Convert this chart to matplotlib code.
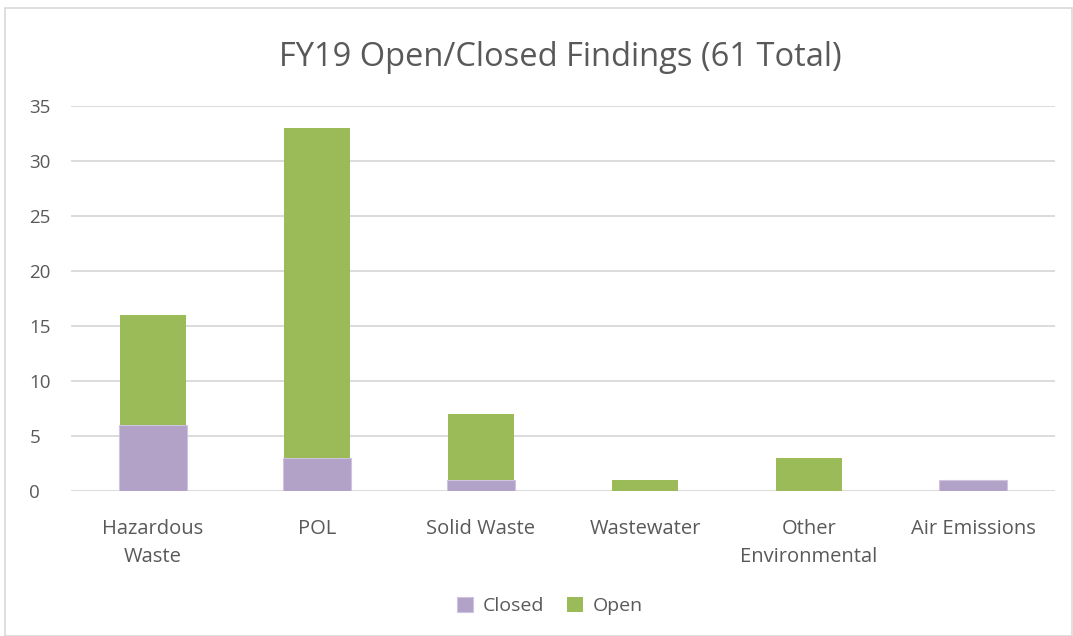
import matplotlib
matplotlib.use("Agg")
import matplotlib.pyplot as plt
from matplotlib.patches import Rectangle

categories = ["Hazardous\nWaste", "POL", "Solid Waste", "Wastewater", "Other\nEnvironmental", "Air Emissions"]
closed = [6, 3, 1, 0, 0, 1]
open_ = [10, 30, 6, 1, 3, 0]
yticks = [0, 5, 10, 15, 20, 25, 30, 35]

plt.rcParams['font.family'] = ['Open Sans', 'DejaVu Sans']
txt = '#595959'
purple = '#b3a2c7'
green = '#9bbb59'

fig = plt.figure(figsize=(10.73, 6.36), dpi=100)
ax = fig.add_axes([71/1073, 1-491/636, (1055-71)/1073, (491-106)/636])

x = list(range(len(categories)))
ax.bar(x, closed, width=0.42, color=purple, edgecolor='#cfc4de', linewidth=0.8, label='Closed', zorder=3)
ax.bar(x, open_, width=0.40, bottom=closed, color=green, label='Open', zorder=3)

ax.set_xlim(-0.5, len(categories) - 0.5)
ax.set_ylim(0, 35)
ax.set_yticks(yticks)
ax.set_xticks(x)
ax.set_xticklabels(categories, fontsize=14.5, color=txt, linespacing=1.55)
ax.tick_params(axis='y', labelsize=13.5, labelcolor=txt, length=0, pad=30)
ax.tick_params(axis='x', length=0, pad=20)
for lbl in ax.get_yticklabels():
    lbl.set_horizontalalignment('left')
ax.grid(axis='y', color='#d9d9d9', linewidth=1.3, zorder=0)
for s in ax.spines.values():
    s.set_visible(False)

fig.text(560/1073, 1-57/636, "FY19 Open/Closed Findings (61 Total)", ha='center', va='center',
         fontsize=23.5, color=txt)

leg = fig.legend(loc='center', bbox_to_anchor=(550/1073, 1-606/636), ncol=2, frameon=False,
                 fontsize=14, labelcolor=txt, handlelength=0.8, handleheight=0.8,
                 columnspacing=1.2, handletextpad=0.5)

fig.add_artist(Rectangle((5/1073, 0), 1 - 6/1073, 1 - 8/636, transform=fig.transFigure,
                         fill=False, edgecolor='#d9d9d9', linewidth=1.2))

fig.savefig("out.png", dpi=100)
